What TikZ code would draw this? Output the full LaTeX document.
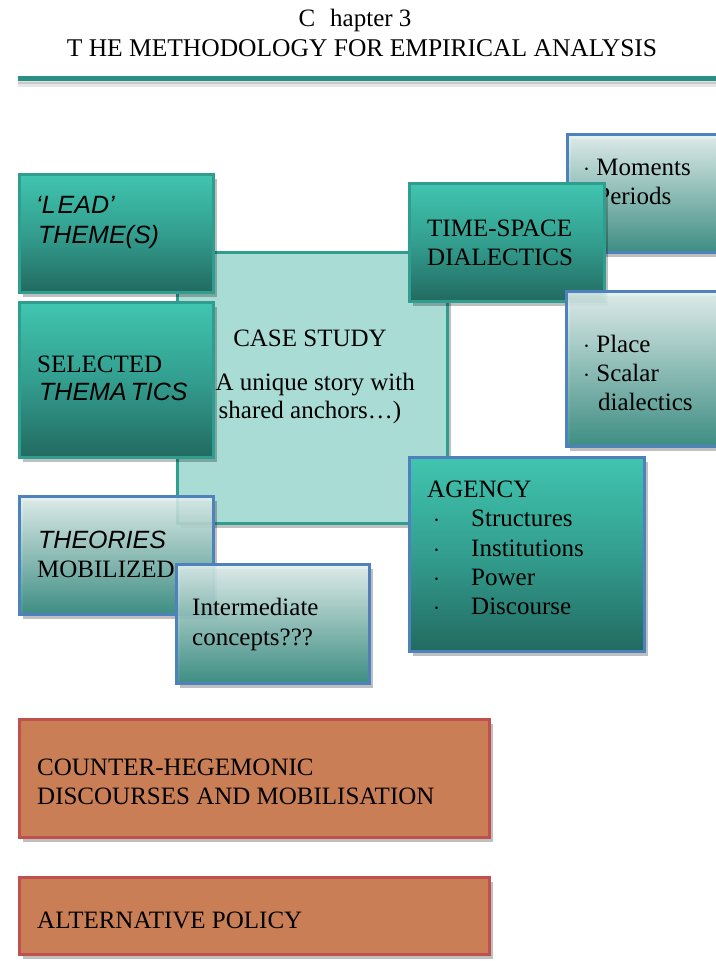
\documentclass[tikz,border=0pt]{standalone}
\usepackage{fontspec}
\setmainfont{Liberation Serif}
\newfontfamily\sansit{Liberation Sans}
\usetikzlibrary{shadows}
\definecolor{tealtop}{HTML}{40C5B0}
\definecolor{tealmid}{HTML}{339E8F}
\definecolor{tealbot}{HTML}{226A60}
\definecolor{tealedge}{HTML}{2F9E8E}
\definecolor{lighttop}{HTML}{E2F1EF}
\definecolor{lightbot}{HTML}{2C877B}
\definecolor{blueedge}{HTML}{4F81BD}
\definecolor{casefill}{HTML}{A9DCD5}
\definecolor{orangefill}{HTML}{C97E55}
\definecolor{rededge}{HTML}{C0504D}
\definecolor{rulecol}{HTML}{2A9085}
\tikzset{
  boxshade/.style={drop shadow={shadow xshift=4pt,shadow yshift=-5pt,fill=black,opacity=0.25}},
  basebox/.style={rectangle,anchor=north west,inner sep=0pt,line width=2.6pt,boxshade},
  darkbox/.style={basebox,draw=tealedge,top color=tealtop,bottom color=tealbot,middle color=tealmid},
  bluedark/.style={basebox,draw=blueedge,top color=tealtop,bottom color=tealbot,middle color=tealmid},
  lightbox/.style={basebox,draw=blueedge,top color=lighttop,bottom color=lightbot,fill opacity=0.88},
  casebox/.style={basebox,draw=tealedge,fill=casefill},
  orangebox/.style={basebox,draw=rededge,fill=orangefill},
  txt/.style={anchor=base west,inner sep=0pt,font=\fontsize{25}{30}\selectfont},
  ctxt/.style={anchor=base,inner sep=0pt,font=\fontsize{25}{30}\selectfont},
  sitxt/.style={anchor=base west,inner sep=0pt,font=\sansit\itshape\fontsize{25}{30}\selectfont},
}
\begin{document}
\begin{tikzpicture}[x=1pt,y=-1pt]
\useasboundingbox (0,0) rectangle (715,961);
\fill[white] (0,0) rectangle (715,961);
% header
\node[anchor=base,inner sep=0pt,font=\fontsize{25}{30}\selectfont] (chap) at (355,27) {C\hspace{0.6em}hapter 3};
\node[anchor=base,inner sep=0pt,font=\fontsize{25.5}{30}\selectfont] (title) at (362,56) {T HE METHODOLOGY FOR EMPIRICAL ANALYSIS};
\coordinate (rl) at (18,78);
\coordinate (rr) at (720,78);
\draw[line width=5pt,black,opacity=0.10] ([yshift=-6pt]rl) -- ([yshift=-6pt]rr);
\draw[line width=4pt,black,opacity=0.12] ([yshift=-4pt]rl) -- ([yshift=-4pt]rr);
\draw[line width=5pt,rulecol] (rl) -- (rr);
% case study
\node[casebox,minimum width=270pt,minimum height=271pt] (case) at (176,251) {};
\node[ctxt] (caset) at (310,346) {CASE STUDY};
\node[ctxt] (cased1) at (311,390) {(A unique story with};
\node[ctxt] (cased2) at (310,418) {shared anchors\ldots)};
% lead themes
\node[darkbox,minimum width=194pt,minimum height=118pt] (lead) at (18,173) {};
\node[sitxt] (leadt1) at (36,213) {‘L\kern2pt EAD’};
\node[sitxt] (leadt2) at (38,243) {THEME(S)};
% selected thematics
\node[darkbox,minimum width=194pt,minimum height=155pt] (sel) at (18,301) {};
\node[txt] (selt1) at (37,372) {SELECTED};
\node[sitxt] (selt2) at (39,400) {THEMA\kern4pt TICS};
% moments box
\node[lightbox,minimum width=175pt,minimum height=118pt] (mom) at (566,133) {};
\node[txt] (momt1) at (583,175) {$\cdot$ Moments};
\node[txt] (momt2) at (583,204) {$\cdot$ Periods};
% time-space
\node[darkbox,minimum width=195pt,minimum height=118pt] (ts) at (408,182) {};
\node[txt] (tst1) at (427,236) {TIME-SPACE};
\node[txt] (tst2) at (427,265) {DIALECTICS};
% place box
\node[lightbox,minimum width=175pt,minimum height=155pt] (place) at (565,290) {};
\node[txt] (plt1) at (583,352) {$\cdot$ Place};
\node[txt] (plt2) at (583,381) {$\cdot$ Scalar};
\node[txt] (plt3) at (598,410) {dialectics};
% agency
\node[bluedark,minimum width=235pt,minimum height=194pt] (ag) at (408,456) {};
\node[txt] (agt) at (427,497) {AGENCY};
\node[txt] (ag1) at (433,526) {$\cdot$};
\node[txt] (ag1t) at (471,526) {Structures};
\node[txt] (ag2) at (433,556) {$\cdot$};
\node[txt] (ag2t) at (471,556) {Institutions};
\node[txt] (ag3) at (433,585) {$\cdot$};
\node[txt] (ag3t) at (471,585) {Power};
\node[txt] (ag4) at (433,614) {$\cdot$};
\node[txt] (ag4t) at (471,614) {Discourse};
% theories
\node[lightbox,minimum width=194pt,minimum height=118pt] (th) at (18,495) {};
\node[sitxt] (tht1) at (38,548) {THEORIES};
\node[txt] (tht2) at (37,577) {MOBILIZED};
% intermediate
\node[lightbox,minimum width=193pt,minimum height=119pt] (inter) at (175,563) {};
\node[txt] (intt1) at (192,615) {Intermediate};
\node[txt] (intt2) at (192,645) {concepts???};
% counter-hegemonic
\node[orangebox,minimum width=470pt,minimum height=118pt] (ch) at (18,718) {};
\node[txt] (cht1) at (37,775) {COUNTER-HEGEMONIC};
\node[txt] (cht2) at (37,804) {DISCOURSES AND MOBILISATION};
% alternative policy
\node[orangebox,minimum width=470pt,minimum height=77pt] (ap) at (18,876) {};
\node[txt] (apt) at (37,928) {ALTERNATIVE POLICY};
\end{tikzpicture}
\end{document}
